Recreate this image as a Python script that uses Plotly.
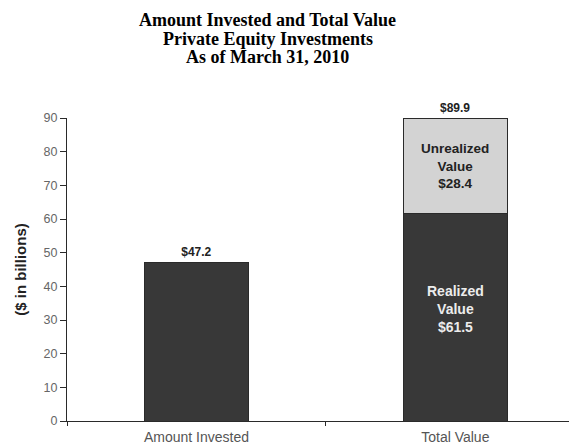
import plotly.graph_objects as go

categories = ["Amount Invested", "Total Value"]
invested = [47.2, None]
realized = [None, 61.5]
unrealized = [None, 28.4]
total_label = "$89.9"
y_ticks = [0, 10, 20, 30, 40, 50, 60, 70, 80, 90]
title_lines = ["Amount Invested and Total Value", "Private Equity Investments", "As of March 31, 2010"]

DARK = "#383838"
LIGHT = "#d3d3d3"
LINE = "#2a2a2a"
FONT = "Liberation Sans, Arial, sans-serif"

fig = go.Figure()
fig.add_trace(go.Bar(
    x=categories, y=invested, width=0.4,
    marker=dict(color=DARK, line=dict(color=LINE, width=1)),
    text=[f"<b>${v}</b>" if v is not None else "" for v in invested],
    textposition="outside", cliponaxis=False,
    textfont=dict(family=FONT, size=12, color="#222"),
    showlegend=False,
))
fig.add_trace(go.Bar(
    x=categories, y=realized, width=0.4,
    marker=dict(color=DARK, line=dict(color=LINE, width=1)),
    showlegend=False,
))
fig.add_trace(go.Bar(
    x=categories, y=unrealized, width=0.4,
    marker=dict(color=LIGHT, line=dict(color=LINE, width=1)),
    showlegend=False,
))

# segment labels
fig.add_annotation(
    x=categories[1], y=realized[1] / 2, yshift=8,
    text=f"<b>Realized<br>Value<br>${realized[1]}</b>", showarrow=False,
    font=dict(family=FONT, size=14, color="#ececec"),
)
fig.add_annotation(
    x=categories[1], y=realized[1] + unrealized[1] / 2, yshift=0,
    text=f"<b>Unrealized<br>Value<br>${unrealized[1]}</b>", showarrow=False,
    font=dict(family=FONT, size=13.5, color="#222"),
)
fig.add_annotation(
    x=categories[1], y=realized[1] + unrealized[1], text="<b>" + total_label + "</b>",
    showarrow=False, yanchor="bottom", yshift=1,
    font=dict(family=FONT, size=12, color="#222"),
)

# title lines (tight line spacing as in the reference)
for line, yp in zip(title_lines, [1.322, 1.261, 1.200]):
    fig.add_annotation(
        xref="paper", yref="paper", x=0.394, y=yp, xanchor="center", yanchor="middle",
        text="<b>" + line + "</b>", showarrow=False,
        font=dict(family="Liberation Serif, Times New Roman, serif", size=18, color="black"),
    )

fig.update_layout(
    barmode="stack",
    width=577, height=446,
    margin=dict(l=59, r=8, t=110, b=33),
    paper_bgcolor="white", plot_bgcolor="white",
    xaxis=dict(
        type="category", range=[-0.5, 1.47], tickson="boundaries",
        showline=True, linecolor=LINE, linewidth=1,
        ticks="outside", ticklen=4, tickcolor=LINE, ticklabelstandoff=3,
        showgrid=False, zeroline=False, automargin=False,
        tickfont=dict(family=FONT, size=14, color="#555"),
    ),
    yaxis=dict(
        range=[0, 90], tickvals=y_ticks, automargin=False,
        showline=True, linecolor=LINE, linewidth=1,
        ticks="outside", ticklen=6, tickcolor=LINE,
        showgrid=False, zeroline=False,
        tickfont=dict(family=FONT, size=12.5, color="#666"),
        title=dict(text="<b>($ in billions)</b>", standoff=13,
                   font=dict(family=FONT, size=15, color="#222")),
    ),
)

fig.write_html("out.html")
